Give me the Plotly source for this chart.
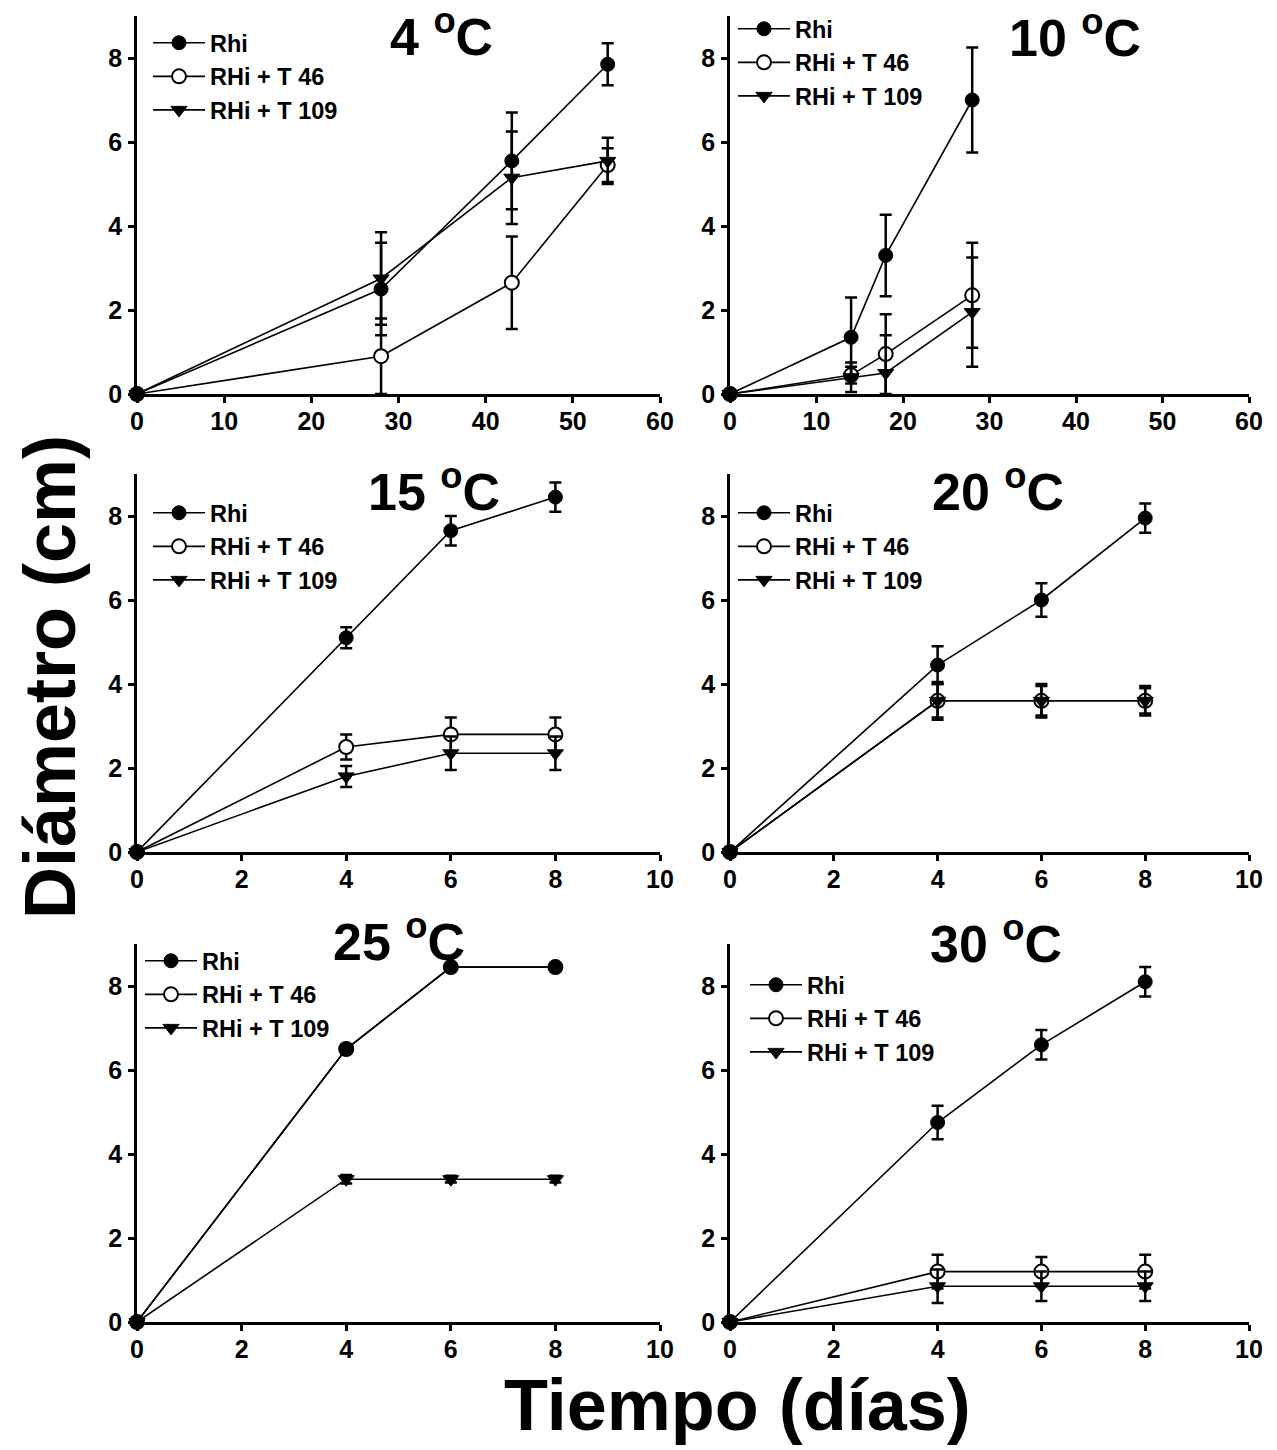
import plotly.graph_objects as go

# ---------------- data ----------------
SERIES = ["Rhi", "RHi + T 46", "RHi + T 109"]
TITLES = ["4 <sup>o</sup>C", "10 <sup>o</sup>C", "15 <sup>o</sup>C",
          "20 <sup>o</sup>C", "25 <sup>o</sup>C", "30 <sup>o</sup>C"]

DAYS_4 = [0, 28, 43, 54]
RHI_4 = [0, 2.5, 5.55, 7.85]
RHI_4_ERR = [0, 1.1, 1.15, 0.5]
T46_4 = [0, 0.9, 2.65, 5.45]
T46_4_ERR = [0, 0.9, 1.1, 0.4]
T109_4 = [0, 2.75, 5.15, 5.55]
T109_4_ERR = [0, 1.1, 1.1, 0.55]

DAYS_10 = [0, 14, 18, 28]
RHI_10 = [0, 1.35, 3.3, 7.0]
RHI_10_ERR = [0, 0.95, 0.97, 1.25]
T46_10 = [0, 0.45, 0.95, 2.35]
T46_10_ERR = [0, 0.2, 0.95, 1.25]
T109_10 = [0, 0.4, 0.5, 1.95]
T109_10_ERR = [0, 0.35, 0.9, 1.3]

DAYS_15 = [0, 4, 6, 8]
RHI_15 = [0, 5.1, 7.65, 8.45]
RHI_15_ERR = [0, 0.25, 0.35, 0.35]
T46_15 = [0, 2.5, 2.8, 2.8]
T46_15_ERR = [0, 0.3, 0.4, 0.4]
T109_15 = [0, 1.8, 2.35, 2.35]
T109_15_ERR = [0, 0.25, 0.4, 0.4]

DAYS_20 = [0, 4, 6, 8]
RHI_20 = [0, 4.45, 6.0, 7.95]
RHI_20_ERR = [0, 0.45, 0.4, 0.35]
T46_20 = [0, 3.6, 3.6, 3.6]
T46_20_ERR = [0, 0.45, 0.4, 0.3]
T109_20 = [0, 3.6, 3.6, 3.6]
T109_20_ERR = [0, 0.4, 0.35, 0.35]

DAYS_25 = [0, 4, 6, 8]
RHI_25 = [0, 6.5, 8.45, 8.45]
RHI_25_ERR = [0, 0.1, 0.08, 0.05]
T46_25 = [0, 6.5, 8.45, 8.45]
T46_25_ERR = [0, 0.1, 0.08, 0.05]
T109_25 = [0, 3.4, 3.4, 3.4]
T109_25_ERR = [0, 0.1, 0.08, 0.08]

DAYS_30 = [0, 4, 6, 8]
RHI_30 = [0, 4.75, 6.6, 8.1]
RHI_30_ERR = [0, 0.4, 0.35, 0.35]
T46_30 = [0, 1.2, 1.2, 1.2]
T46_30_ERR = [0, 0.4, 0.35, 0.4]
T109_30 = [0, 0.85, 0.85, 0.85]
T109_30_ERR = [0, 0.4, 0.35, 0.35]

X_MAX = [60, 60, 10, 10, 10, 10]
X_DTICK = [10, 10, 2, 2, 2, 2]
Y_TICKS = [0, 2, 4, 6, 8]

PANELS = [
    (DAYS_4, [(RHI_4, RHI_4_ERR), (T46_4, T46_4_ERR), (T109_4, T109_4_ERR)]),
    (DAYS_10, [(RHI_10, RHI_10_ERR), (T46_10, T46_10_ERR), (T109_10, T109_10_ERR)]),
    (DAYS_15, [(RHI_15, RHI_15_ERR), (T46_15, T46_15_ERR), (T109_15, T109_15_ERR)]),
    (DAYS_20, [(RHI_20, RHI_20_ERR), (T46_20, T46_20_ERR), (T109_20, T109_20_ERR)]),
    (DAYS_25, [(RHI_25, RHI_25_ERR), (T46_25, T46_25_ERR), (T109_25, T109_25_ERR)]),
    (DAYS_30, [(RHI_30, RHI_30_ERR), (T46_30, T46_30_ERR), (T109_30, T109_30_ERR)]),
]

# ---------------- styling / layout ----------------
W, H = 1277, 1450
FONT = "Liberation Sans, Arial, sans-serif"
COLS = [(137, 660), (730, 1249)]
ROWS = [(16, 394), (474, 852), (944, 1322)]
LEGEND_POS = [(148, 21), (733, 7), (148, 491), (733, 491), (140, 939), (745, 963)]
TITLE_POS = [(441, 33), (1075, 34), (434, 488), (998, 488), (399, 938), (996, 940)]

MARKERS = [
    dict(symbol="circle", size=14, color="black", line=dict(color="black", width=1)),
    dict(symbol="circle", size=14, color="white", line=dict(color="black", width=2)),
    dict(symbol="triangle-down", size=14, color="black", line=dict(color="black", width=1)),
]
DRAW_ORDER = [1, 2, 0]

fig = go.Figure()
layout = dict(width=W, height=H, margin=dict(l=0, r=0, t=0, b=0),
              paper_bgcolor="white", plot_bgcolor="white",
              font=dict(family=FONT, color="black"), annotations=[])

for i, (days, series) in enumerate(PANELS):
    r, c = divmod(i, 2)
    n = "" if i == 0 else str(i + 1)
    xa, ya = "x" + n, "y" + n
    leg = "legend" + n
    for k in DRAW_ORDER:
        vals, errs = series[k]
        fig.add_trace(go.Scatter(
            x=days, y=vals, mode="lines+markers", name=SERIES[k],
            xaxis=xa, yaxis=ya, legend=leg, legendrank=k + 1,
            line=dict(color="black", width=1.6), marker=MARKERS[k],
            error_y=dict(type="data", array=errs, visible=True, color="black",
                         thickness=2.5, width=6),
            cliponaxis=False,
        ))
    x0, x1 = COLS[c]
    y0, y1 = ROWS[r]
    axis_common = dict(showgrid=False, zeroline=False, showline=True, linecolor="black",
                       linewidth=2.5, ticks="outside", ticklen=6, tickwidth=2.5,
                       tickcolor="black", automargin=False,
                       tickfont=dict(family=FONT, size=25, color="black", weight="bold"))
    layout["xaxis" + n] = dict(axis_common, domain=[x0 / W, x1 / W], anchor=ya,
                                range=[0, X_MAX[i]], tickmode="linear", tick0=0,
                                dtick=X_DTICK[i], ticklabelstandoff=-3)
    layout["yaxis" + n] = dict(axis_common, domain=[1 - y1 / H, 1 - y0 / H], anchor=xa,
                                range=[0, 9], tickvals=Y_TICKS, ticklabelstandoff=1)
    lx, ly = LEGEND_POS[i]
    layout[leg] = dict(x=lx / W, y=1 - ly / H, xanchor="left", yanchor="top",
                       bgcolor="rgba(0,0,0,0)", borderwidth=0, itemwidth=52,
                       tracegroupgap=0,
                       font=dict(family=FONT, size=23.5, color="black", weight="bold"))
    tx, ty = TITLE_POS[i]
    layout["annotations"].append(dict(
        text=TITLES[i], x=tx / W, y=1 - ty / H, xref="paper", yref="paper",
        xanchor="center", yanchor="middle", showarrow=False,
        font=dict(family=FONT, size=52, color="black", weight="bold")))

layout["annotations"].append(dict(
    text="Diámetro (cm)", x=50 / W, y=1 - 677 / H, xref="paper", yref="paper",
    textangle=-90, xanchor="center", yanchor="middle", showarrow=False,
    font=dict(family=FONT, size=72, color="black", weight="bold")))
layout["annotations"].append(dict(
    text="Tiempo (días)", x=737 / W, y=1 - 1405 / H, xref="paper", yref="paper",
    xanchor="center", yanchor="middle", showarrow=False,
    font=dict(family=FONT, size=72, color="black", weight="bold")))

fig.update_layout(**layout)
fig.update_layout(showlegend=True)

fig.write_html("out.html", config={"displayModeBar": False},
               post_script="document.body.style.margin='0';")
